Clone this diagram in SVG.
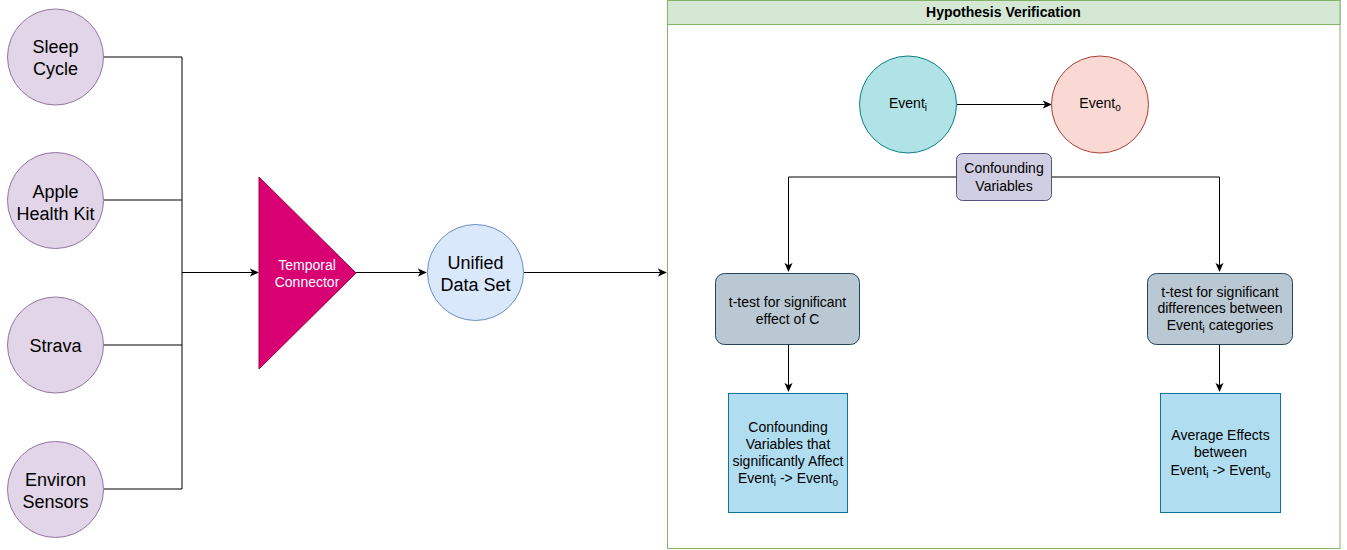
<svg xmlns="http://www.w3.org/2000/svg" width="1347" height="550" viewBox="0 0 1347 550">
<style>
text{font-family:"Liberation Sans",Arial,Helvetica,sans-serif;fill:#000;text-anchor:middle}
.src{fill:#e1d5e7;stroke:#9673a6;stroke-width:1}
.t16{font-size:18px}
.t12{font-size:14px}
.ln{fill:none;stroke:#000;stroke-width:1}
.test{fill:#bac8d3;stroke:#23445d;stroke-width:1}
.res{fill:#b1ddf0;stroke:#10739e;stroke-width:1}
.sub{font-size:10px}
</style>
<defs>
<marker id="arr" viewBox="0 0 10 10" refX="9" refY="5" markerWidth="9" markerHeight="9" markerUnits="userSpaceOnUse" orient="auto">
<path d="M0,0.5 L10,5 L0,9.5 L2.5,5 z" fill="#000"/>
</marker>
</defs>
<rect width="1347" height="550" fill="#fff"/>

<g id="container">
<rect x="667.5" y="0.5" width="672.5" height="548" fill="#fff" stroke="#82b366"/>
<rect x="667.5" y="0.5" width="672.5" height="24" fill="#d5e8d4" stroke="#82b366"/>
<text x="1003.5" y="17" class="t12" font-weight="bold">Hypothesis Verification</text>
</g>

<g id="connectors">
<path class="ln" d="M104,57 H182 V489 M104,200 H182 M104,345 H182 M104,489 H182"/>
<path class="ln" d="M182,272.5 H258" marker-end="url(#arr)"/>
<path class="ln" d="M356,272.5 H426" marker-end="url(#arr)"/>
<path class="ln" d="M524,272.5 H666" marker-end="url(#arr)"/>
<path class="ln" d="M957,104.5 H1051" marker-end="url(#arr)"/>
<path class="ln" d="M956,177 H788.5 V271" marker-end="url(#arr)"/>
<path class="ln" d="M1052,177 H1219.5 V271" marker-end="url(#arr)"/>
<path class="ln" d="M788.5,345 V391" marker-end="url(#arr)"/>
<path class="ln" d="M1219.5,345 V391" marker-end="url(#arr)"/>
</g>

<g id="sleep-cycle">
<circle class="src" cx="55.5" cy="57" r="48"/>
<text class="t16" x="55.5" y="53">Sleep</text>
<text class="t16" x="55.5" y="75">Cycle</text>
</g>
<g id="apple-health-kit">
<circle class="src" cx="55.5" cy="200.5" r="48"/>
<text class="t16" x="55.5" y="198">Apple</text>
<text class="t16" x="55.5" y="220">Health Kit</text>
</g>
<g id="strava">
<circle class="src" cx="55.5" cy="345" r="48"/>
<text class="t16" x="55.5" y="352">Strava</text>
</g>
<g id="environ-sensors">
<circle class="src" cx="55.5" cy="489.5" r="48"/>
<text class="t16" x="55.5" y="486">Environ</text>
<text class="t16" x="55.5" y="508">Sensors</text>
</g>

<g id="temporal-connector">
<polygon points="259,177 356,273 259,369" fill="#d80073" stroke="#a50040" stroke-width="1"/>
<text class="t12" x="307" y="270" style="fill:#fff">Temporal</text>
<text class="t12" x="307" y="287" style="fill:#fff">Connector</text>
</g>

<g id="unified-data-set">
<circle cx="475.5" cy="272.5" r="48" fill="#dae8fc" stroke="#6c8ebf"/>
<text class="t16" x="475.5" y="269">Unified</text>
<text class="t16" x="475.5" y="291">Data Set</text>
</g>

<g id="event-i">
<circle cx="908" cy="104.5" r="48.5" fill="#b0e3e6" stroke="#0e8088"/>
<text class="t12" x="908" y="108">Event<tspan class="sub" dy="3">i</tspan></text>
</g>
<g id="event-o">
<circle cx="1100" cy="104.5" r="48.5" fill="#fad9d5" stroke="#ae4132"/>
<text class="t12" x="1100" y="108">Event<tspan class="sub" dy="3">o</tspan></text>
</g>

<g id="confounding-variables">
<rect x="956.5" y="153.5" width="95" height="47" rx="6" fill="#d0cee2" stroke="#56517e"/>
<text class="t12" x="1004" y="173">Confounding</text>
<text class="t12" x="1004" y="191">Variables</text>
</g>

<g id="ttest-c">
<rect class="test" x="715.5" y="273.5" width="144" height="71" rx="9"/>
<text class="t12" x="787.5" y="307">t-test for significant</text>
<text class="t12" x="787.5" y="324">effect of C</text>
</g>

<g id="ttest-categories">
<rect class="test" x="1147.5" y="273.5" width="145" height="71" rx="9"/>
<text class="t12" x="1220" y="297">t-test for significant</text>
<text class="t12" x="1220" y="313">differences between</text>
<text class="t12" x="1220" y="330">Event<tspan class="sub" dy="3">i</tspan><tspan dy="-3"> categories</tspan></text>
</g>

<g id="confounding-result">
<rect class="res" x="728.5" y="393.5" width="119" height="119"/>
<text class="t12" x="788" y="432">Confounding</text>
<text class="t12" x="788" y="449">Variables that</text>
<text class="t12" x="788" y="466">significantly Affect</text>
<text class="t12" x="788" y="483">Event<tspan class="sub" dy="3">i</tspan><tspan dy="-3"> -&gt; Event</tspan><tspan class="sub" dy="3">o</tspan></text>
</g>

<g id="average-effects">
<rect class="res" x="1160.5" y="393.5" width="120" height="119"/>
<text class="t12" x="1220.5" y="440">Average Effects</text>
<text class="t12" x="1220.5" y="457">between</text>
<text class="t12" x="1220.5" y="475">Event<tspan class="sub" dy="3">i</tspan><tspan dy="-3"> -&gt; Event</tspan><tspan class="sub" dy="3">o</tspan></text>
</g>
</svg>
